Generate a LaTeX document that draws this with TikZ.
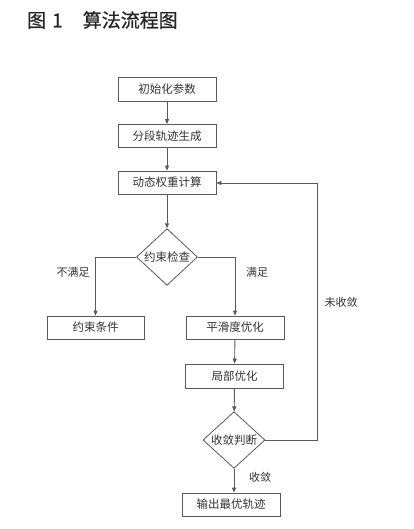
\documentclass[tikz,border=0pt]{standalone}
\usepackage{fontspec}
\setmainfont{Noto Sans CJK SC}
\newfontfamily\titlefont[FakeBold=0.7]{Noto Sans CJK SC}
\usetikzlibrary{shapes.geometric,arrows.meta}
\begin{document}
\begin{tikzpicture}[x=1pt,y=-1pt,
  box/.style={draw=black!65,line width=0.8pt,minimum width=98pt,minimum height=24pt,inner sep=0pt,font=\fontsize{11.5}{13}\selectfont,text=black!80},
  dia/.style={draw=black!65,line width=0.8pt,diamond,minimum width=61pt,minimum height=55pt,inner sep=0pt,font=\fontsize{11.5}{13}\selectfont,text=black!80},
  conn/.style={draw=black!65,line width=0.9pt,-{Triangle[length=5pt,width=4pt]}},
  lbl/.style={font=\fontsize{11}{13}\selectfont,text=black!80}]
\useasboundingbox (0,0) rectangle (414,529);
\node[anchor=west,inner sep=0pt,font=\titlefont\fontsize{19}{22}\selectfont,text=black!85] (title) at (27,20) {图\hspace{6pt}1\hspace{20pt}算法流程图};
\node[box] (b1) at (167,89.5) {初始化参数};
\node[box,minimum height=23pt] (b2) at (167,136) {分段轨迹生成};
\node[box,minimum height=23pt] (b3) at (167,182.5) {动态权重计算};
\node[dia] (d1) at (167,257) {约束检查};
\node[box,minimum width=97pt,minimum height=23pt] (b4) at (95.5,327.5) {约束条件};
\node[box,minimum height=23pt] (b5) at (235,327.5) {平滑度优化};
\node[box,minimum height=24pt] (b6) at (234.5,376) {局部优化};
\node[dia,minimum width=62pt,minimum height=54pt] (d2) at (234,440) {收敛判断};
\node[box,minimum height=23pt] (b7) at (231,504.5) {输出最优轨迹};
\coordinate (loopA) at (317,440);
\coordinate (loopB) at (317,183);
\draw[conn] (b1) -- (b2);
\draw[conn] (b2) -- (b3);
\draw[conn] (b3) -- (d1);
\draw[conn] (d1.west) -| (b4.north);
\draw[conn] (d1.east) -| (b5.north);
\draw[conn] (b5) -- (b6);
\draw[conn] (b6) -- (d2);
\draw[conn] (d2.south) -- (d2.south |- b7.north);
\draw[conn] (d2.east) -- (loopA) -- (loopB) -- (b3.east |- loopB);
\node[lbl] (l1) at (73,272) {不满足};
\node[lbl] (l2) at (257,272) {满足};
\node[lbl] (l3) at (341,302) {未收敛};
\node[lbl] (l4) at (260,477) {收敛};
\end{tikzpicture}
\end{document}
